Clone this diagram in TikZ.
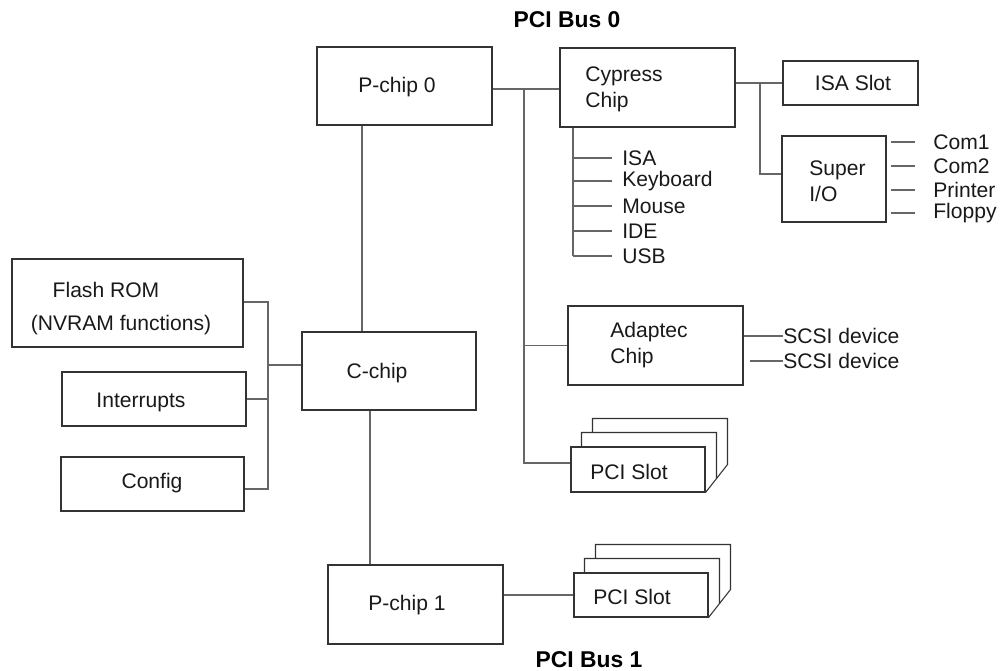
\documentclass[tikz,border=0pt]{standalone}
\usepackage{fontspec}
\setmainfont{Liberation Sans}

\begin{document}
\begin{tikzpicture}[x=0.02cm,y=-0.02cm,
  box/.style={draw=black!80,line width=0.6pt,inner sep=0pt},
  wire/.style={draw=black!60,line width=0.6pt},
  lbl/.style={inner sep=0pt,text=black!90,font=\fontsize{12}{14.7}\selectfont},
  title/.style={inner sep=0pt,font=\fontsize{13}{15}\selectfont\bfseries}]
  \useasboundingbox (0,0) rectangle (1000,671);

  % bus titles
  \node[title] (bus0) at (567,20) {PCI Bus 0};
  \node[title] (bus1) at (589,660) {PCI Bus 1};

  % boxes
  \node[box,minimum width=3.5cm,minimum height=1.56cm] (pchip0) at (404.5,86) {};
  \node[box,minimum width=3.5cm,minimum height=1.58cm] (cypress) at (647.5,87.5) {};
  \node[box,minimum width=2.7cm,minimum height=0.88cm] (isaslot) at (850.5,83) {};
  \node[box,minimum width=2.08cm,minimum height=1.72cm] (superio) at (834,179) {};
  \node[box,minimum width=4.62cm,minimum height=1.76cm] (flashrom) at (127.5,303) {};
  \node[box,minimum width=3.68cm,minimum height=1.08cm] (interrupts) at (154,399) {};
  \node[box,minimum width=3.66cm,minimum height=1.08cm] (config) at (152.5,484) {};
  \node[box,minimum width=3.48cm,minimum height=1.56cm] (cchip) at (389,371) {};
  \node[box,minimum width=3.5cm,minimum height=1.58cm] (adaptec) at (655.5,345.5) {};
  \node[box,minimum width=2.68cm,minimum height=0.9cm] (pcislotA) at (638,469.5) {};
  \node[box,minimum width=2.68cm,minimum height=0.88cm] (pcislotB) at (641,595) {};
  \node[box,minimum width=3.5cm,minimum height=1.58cm] (pchip1) at (415.5,604.5) {};

  % cards stacked behind the slots
  \foreach \s in {pcislotA,pcislotB}
    \foreach \k in {1,2}
      \draw[box] ([shift={(11*\k,14-14*\k)}]\s.north west) -- ++(0,-14)
        -| ([shift={(11*\k,-14*\k)}]\s.south east) -- ++(-11,14);

  % texts in the boxes
  \node[lbl] (pchip0txt) at (397,87) {P-chip 0};
  \node[lbl,anchor=west,align=left] (cypresstxt) at (585,89) {Cypress\\Chip};
  \node[lbl] (isaslottxt) at (853,83) {ISA Slot};
  \node[lbl,anchor=west,align=left] (superiotxt) at (809,181) {Super\\I/O};
  \node[lbl] (flashtxt) at (106,290) {Flash ROM};
  \node[lbl] (nvramtxt) at (121,325) {(NVRAM functions)};
  \node[lbl] (interruptstxt) at (141,402) {Interrupts};
  \node[lbl] (configtxt) at (152,483) {Config};
  \node[lbl] (cchiptxt) at (377,373) {C-chip};
  \node[lbl,anchor=west,align=left] (adaptectxt) at (610,345) {Adaptec\\Chip};
  \node[lbl] (pcislotAtxt) at (629,472) {PCI Slot};
  \node[lbl] (pcislotBtxt) at (632,597) {PCI Slot};
  \node[lbl] (pchip1txt) at (407,605) {P-chip 1};

  % PCI bus 0
  \coordinate (bus0top) at (524,89);
  \draw[wire] (pchip0.east |- bus0top) -- (cypress.west |- bus0top);
  \draw[wire] (bus0top) |- ([yshift=0.13cm]pcislotA.west);
  \draw[wire] (bus0top |- adaptec.west) -- (adaptec.west);

  % cypress chip
  \coordinate (isajoin) at (760,83);
  \draw[wire] (cypress.east |- isaslot.west) -- (isaslot.west);
  \draw[wire] (isajoin) |- ([yshift=0.1cm]superio.west);
  \foreach \dev/\y [count=\i] in {ISA/158,Keyboard/181,Mouse/206,IDE/231,USB/256} {
    \coordinate (tap\i) at (573,\y);
    \node[lbl,anchor=west] (dev\i) at (622,\y) {\dev};
    \draw[wire,shorten >=0.2cm] (tap\i) -- (dev\i.west);
  }
  \draw[wire] (cypress.south -| tap1) -- (tap5);

  % super i/o
  \foreach \port/\y [count=\i] in {Com1/142,Com2/166,Printer/190,Floppy/213} {
    \node[lbl,anchor=west] (port\i) at (933,\y) {\port};
    \draw[wire,shorten <=0.08cm,shorten >=0.36cm] (superio.east |- port\i.west) -- (port\i.west);
  }

  % adaptec
  \node[lbl,anchor=west] (scsi1) at (783,336) {SCSI device};
  \node[lbl,anchor=west] (scsi2) at (783,361) {SCSI device};
  \draw[wire] (adaptec.east |- scsi1.west) -- (scsi1.west);
  \draw[wire,shorten <=0.12cm] (adaptec.east |- scsi2.west) -- (scsi2.west);

  % c-chip side
  \coordinate (brtop) at (268,302);
  \coordinate (brmid) at (268,365);
  \coordinate (brbot) at (268,489);
  \draw[wire] (flashrom.east |- brtop) -- (brtop) -- (brbot) -- (config.east |- brbot);
  \draw[wire] (interrupts.east) -- (interrupts.east -| brtop);
  \draw[wire] (brmid) -- (cchip.west |- brmid);

  \draw[wire] (pchip0.south -| 362,0) -- (cchip.north -| 362,0);
  \draw[wire] (cchip.south -| 370,0) -- (pchip1.north -| 370,0);

  % PCI bus 1
  \draw[wire] (pchip1.east |- pcislotB.west) -- (pcislotB.west);

\end{tikzpicture}
\end{document}
